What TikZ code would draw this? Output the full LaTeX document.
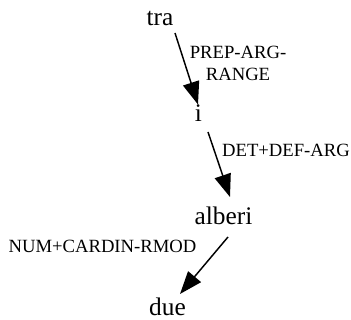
\documentclass[tikz,border=0pt]{standalone}
\usepackage{fontspec}
\setmainfont{Liberation Serif}
\usetikzlibrary{arrows.meta}

\begin{document}
\begin{tikzpicture}[x=0.75pt,y=-0.75pt,
    word/.style={inner sep=0pt,anchor=base,font=\fontsize{19}{23}\selectfont},
    rel/.style={inner sep=0pt,align=center,font=\fontsize{14}{16.5}\selectfont},
    dep/.style={line width=1.1pt,-{Triangle[length=17pt,width=12.5pt]}}]
  \useasboundingbox (0,0) rectangle (351,320);

  % Words
  \node[word] (tra) at (160,26) {tra};
  \node[word] (i) at (198.5,122) {i};
  \node[word] (alberi) at (223.5,225) {alberi};
  \node[word] (due) at (167.5,316) {due};

  % Relation labels
  \node[rel] (prep) at (238,63.5) {PREP-ARG-\\RANGE};
  \node[rel] (det) at (286,150) {DET+DEF-ARG};
  \node[rel] (num) at (102.5,246) {NUM+CARDIN-RMOD};

  % Dependencies
  \draw[dep] ([shift={(15,7)}]tra.base) -- ([shift={(-0.5,-17.5)}]i.base);
  \draw[dep] ([shift={(9.5,10)}]i.base) -- ([shift={(6.5,-28)}]alberi.base);
  \draw[dep] ([shift={(4.5,12)}]alberi.base) -- ([shift={(12.5,-22)}]due.base);
\end{tikzpicture}
\end{document}
